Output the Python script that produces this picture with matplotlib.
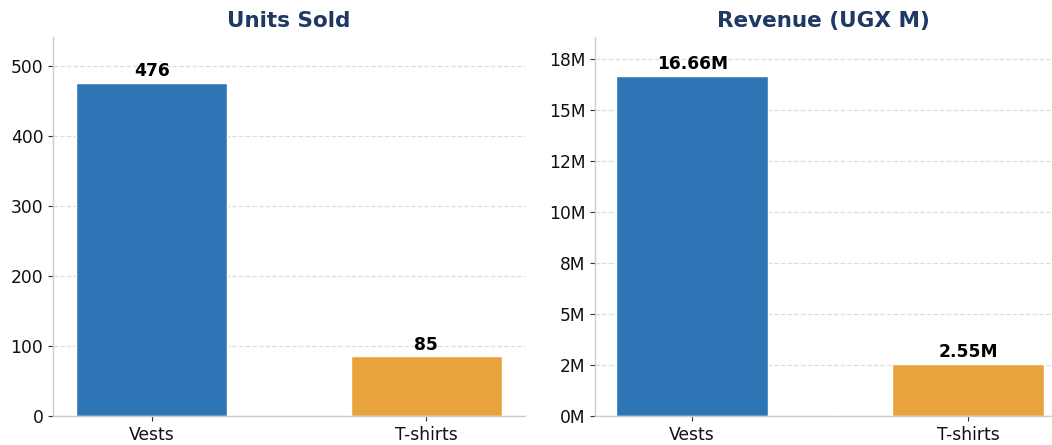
import matplotlib
matplotlib.use("Agg")
import matplotlib.pyplot as plt
from matplotlib.ticker import MultipleLocator, FuncFormatter

categories = ["Vests", "T-shirts"]
units_sold = [476, 85]
revenue_m = [16.66, 2.55]
revenue_labels = ["16.66M", "2.55M"]
colors = ["#2E75B6", "#E8A33D"]

fig = plt.figure(figsize=(10.52, 4.45), dpi=100)
ax1 = fig.add_axes([53/1052, 29/445, 472/1052, 379/445])
ax2 = fig.add_axes([595/1052, 29/445, 456/1052, 379/445])

title_color = "#1F3864"
spine_color = "#CCCCCC"

def style(ax):
    for s in ["top", "right"]:
        ax.spines[s].set_visible(False)
    for s in ["left", "bottom"]:
        ax.spines[s].set_color(spine_color)
        ax.spines[s].set_linewidth(1.0)
    ax.yaxis.grid(True, linestyle="--", color="#DDDDDD", linewidth=0.9)
    ax.set_axisbelow(True)
    ax.tick_params(axis="both", labelsize=12.3, colors="#333333", labelcolor="#111111")

x = list(range(len(categories)))

# Units sold
bars = ax1.bar(x, units_sold, width=0.55, color=colors, edgecolor="white", linewidth=1)
ax1.set_xticks(x)
ax1.set_xticklabels(categories)
ax1.set_xlim(-0.36, 1.36)
ax1.set_ylim(0, 541)
ax1.yaxis.set_major_locator(MultipleLocator(100))
ax1.set_title("Units Sold", fontsize=15.5, fontweight="bold", color=title_color, pad=7)
style(ax1)
for b, v in zip(bars, units_sold):
    ax1.annotate(f"{v}", (b.get_x() + b.get_width()/2, v), xytext=(0, 2),
                 textcoords="offset points", ha="center", va="bottom",
                 fontsize=12.3, fontweight="bold", color="black")

# Revenue
bars2 = ax2.bar(x, revenue_m, width=0.55, color=colors, edgecolor="white", linewidth=1)
ax2.set_xticks(x)
ax2.set_xticklabels(categories)
ax2.set_xlim(-0.352, 1.30)
ax2.set_ylim(0, 18.58)
ax2.yaxis.set_major_locator(MultipleLocator(2.5))
ax2.yaxis.set_major_formatter(FuncFormatter(lambda v, p: f"{v:.0f}M"))
ax2.set_title("Revenue (UGX M)", fontsize=15.5, fontweight="bold", color=title_color, pad=7)
style(ax2)
for b, v, lab in zip(bars2, revenue_m, revenue_labels):
    ax2.annotate(lab, (b.get_x() + b.get_width()/2, v), xytext=(0, 2),
                 textcoords="offset points", ha="center", va="bottom",
                 fontsize=12.3, fontweight="bold", color="black")

fig.savefig("out.png", dpi=100)
